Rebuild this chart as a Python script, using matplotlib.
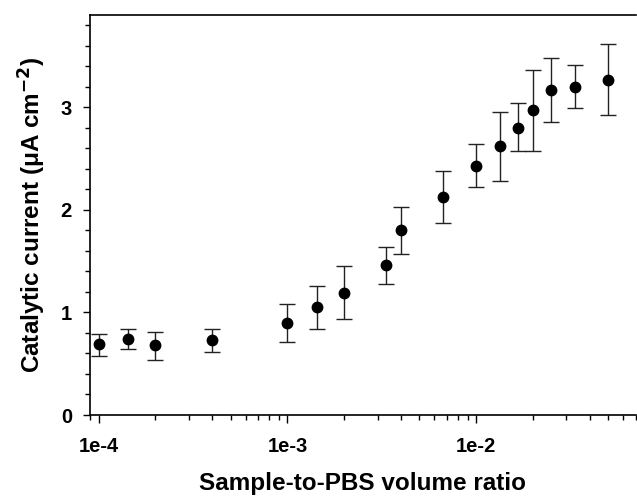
import numpy as np
import matplotlib
matplotlib.use("Agg")
import matplotlib.pyplot as plt

plt.rcParams["font.family"] = ["Liberation Sans", "DejaVu Sans"]
plt.rcParams["font.weight"] = "bold"
plt.rcParams["mathtext.fontset"] = "custom"
plt.rcParams["mathtext.rm"] = "Liberation Sans:bold"
plt.rcParams["mathtext.default"] = "regular"

# Данные
ratio = [1e-4, 1.43e-4, 2e-4, 4e-4, 1e-3, 1.43e-3, 2e-3, 3.33e-3, 4e-3,
         6.67e-3, 1e-2, 1.33e-2, 1.67e-2, 2e-2, 2.5e-2, 3.33e-2, 5e-2]
current = [0.69, 0.74, 0.68, 0.73, 0.90, 1.05, 1.19, 1.46, 1.80,
           2.13, 2.43, 2.62, 2.80, 2.97, 3.17, 3.20, 3.27]
err_low = [0.11, 0.10, 0.14, 0.12, 0.19, 0.21, 0.25, 0.18, 0.23,
           0.26, 0.21, 0.34, 0.23, 0.40, 0.31, 0.21, 0.35]
err_high = [0.10, 0.10, 0.13, 0.11, 0.18, 0.21, 0.26, 0.18, 0.23,
            0.25, 0.21, 0.33, 0.24, 0.39, 0.31, 0.21, 0.35]

y_ticks = [0, 1, 2, 3]
x_ticks = [1e-4, 1e-3, 1e-2]
x_tick_labels = ["1e-4", "1e-3", "1e-2"]

fig = plt.figure(figsize=(6.37, 4.96), dpi=100)
ax = fig.add_axes([0.1413, 0.1633, 0.857, 0.8065])

ax.errorbar(ratio, current, yerr=[err_low, err_high], fmt="o", color="black",
            ecolor="#222222", elinewidth=1.0, capsize=6, capthick=1.0,
            markersize=7.5)

ax.set_xscale("log")
ax.set_xlim(9e-5, 7e-2)
ax.set_ylim(0, 3.9)

ax.set_xticks(x_ticks)
ax.set_xticklabels(x_tick_labels)
ax.set_yticks(y_ticks)
ax.set_yticks(np.arange(0, 3.9, 0.2), minor=True)

ax.spines["right"].set_visible(False)
for s in ["left", "bottom", "top"]:
    ax.spines[s].set_linewidth(1.2)

ax.tick_params(axis="x", which="major", length=6, width=1, pad=10, labelsize=14.5)
ax.tick_params(axis="x", which="minor", length=3.5, width=1)
ax.tick_params(axis="y", which="major", length=5, width=1, pad=8, labelsize=14.5)
ax.tick_params(axis="y", which="minor", length=3.5, width=1)

ax.set_xlabel("Sample-to-PBS volume ratio", fontsize=17.5, fontweight="bold", labelpad=11)
ax.set_ylabel("Catalytic current (\u03bcA cm$^{\\mathsf{-2}}$)", fontsize=17.5,
              fontweight="bold", labelpad=10)

fig.savefig("out.png", dpi=100)
